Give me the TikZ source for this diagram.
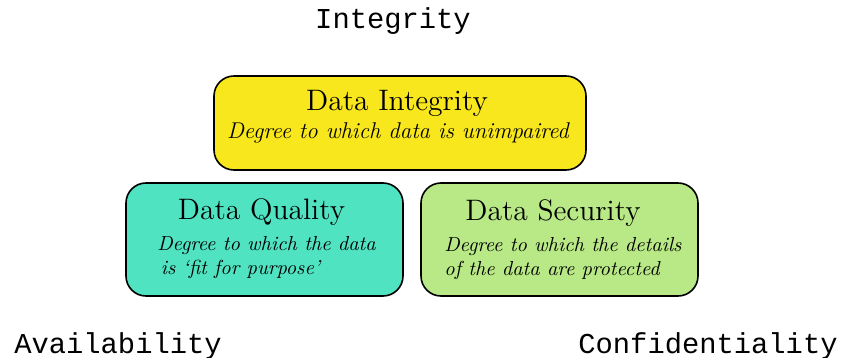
\documentclass[tikz,border=0pt]{standalone}
\usepackage{fontspec}
\setmonofont{Liberation Mono}
\usepackage{tikz}
\usetikzlibrary{positioning,calc}
\definecolor{integcol}{HTML}{F8E71C}
\definecolor{qualcol}{HTML}{50E3C2}
\definecolor{seccol}{HTML}{B8E986}
\tikzset{
    box/.style={draw, rounded corners=10pt, line width=0.8pt},
    title/.style={font=\fontsize{14.8}{17}\selectfont},
    desc/.style={font=\fontsize{10.15}{12}\selectfont\itshape, align=left, inner sep=0pt},
    corner/.style={font=\fontsize{14.4}{17}\selectfont\ttfamily}
}

\begin{document}
\begin{tikzpicture}[x=0.5pt, y=-0.5pt]
            \useasboundingbox (0,0) rectangle (841,358);
            \node[box, fill=integcol, minimum width=186pt, minimum height=47pt] (integrity) at (400,123) {};
            \node[box, fill=qualcol, minimum width=138.5pt, minimum height=56.5pt] (quality) at (264.5,239.5) {};
            \node[box, fill=seccol, minimum width=138.5pt, minimum height=56.5pt] (security) at (559.5,239.5) {};
            \node[title] (integT) at (397,103) {Data Integrity};
            \node[desc, font=\fontsize{11.4}{13}\selectfont\itshape] (integD) at (398,133) {Degree to which data is unimpaired};
            \node[title] (qualT) at (261.5,212) {Data Quality};
            \node[desc, anchor=west] (qualD) at (157,258) {Degree to which the data\\ \,is `fit for purpose'};
            \node[title] (secT) at (553,213) {Data Security};
            \node[desc, anchor=west] (secD) at (444,259) {Degree to which the details\\of the data are protected};
            % corner labels
            \node[corner] (lblI) at (393,21) {Integrity};
            \node[corner] (lblA) at (118,346) {Availability};
            \node[corner] (lblC) at (708,346) {Confidentiality};
        \end{tikzpicture}
\end{document}
